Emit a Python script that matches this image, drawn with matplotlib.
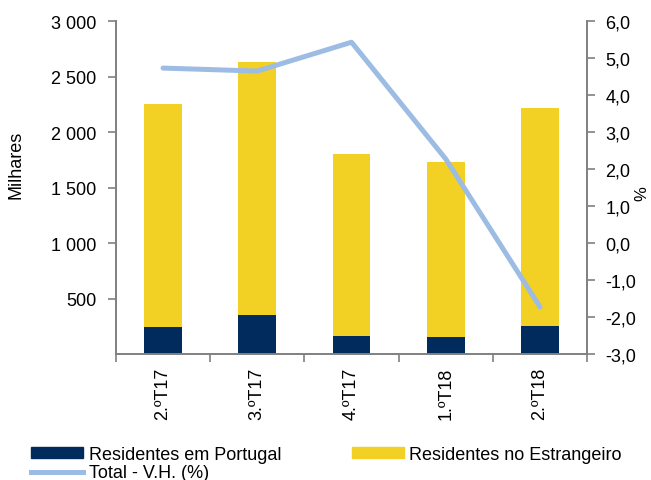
import numpy as np
import matplotlib
matplotlib.use("Agg")
import matplotlib.pyplot as plt
from matplotlib.patches import Patch
from matplotlib.lines import Line2D

plt.rcParams['font.family'] = ['Liberation Sans', 'DejaVu Sans']

# Data (thousands of guests, and year-on-year change in %)
quarters = ["2.ºT17", "3.ºT17", "4.ºT17", "1.ºT18", "2.ºT18"]
residentes_portugal = [245, 350, 162, 153, 252]
residentes_estrangeiro = [2007, 2281, 1640, 1577, 1964]
total_vh = [4.73, 4.65, 5.43, 2.27, -1.73]

navy = "#002B5C"
yellow = "#F2D024"
light_blue = "#9DBCE3"
grey = "#808080"
fs = 13

fig = plt.figure(figsize=(6.51, 4.81), dpi=100)
ax = fig.add_axes([0.178, 0.262, 0.724, 0.692])
x = np.arange(len(quarters))

ax.bar(x, residentes_portugal, width=0.4, color=navy, zorder=2)
ax.bar(x, residentes_estrangeiro, width=0.4, bottom=residentes_portugal,
       color=yellow, zorder=2)

ax.set_xlim(-0.5, len(quarters) - 0.5)
ax.set_ylim(0, 3000)
ax.set_yticks([500, 1000, 1500, 2000, 2500, 3000])
ax.set_yticklabels(["500", "1 000", "1 500", "2 000", "2 500", "3 000"])
ax.set_ylabel("Milhares", fontsize=fs)
ax.yaxis.set_label_coords(-0.193, 0.57)

ax.set_xticks(x)
ax.set_xticklabels(quarters, rotation=90, fontsize=fs)
ax.tick_params(axis="x", length=0, pad=9)
ax.set_xticks(np.arange(-0.5, len(quarters), 1), minor=True)
ax.tick_params(axis="x", which="minor", length=6, color=grey, width=1.2)
ax.tick_params(axis="y", length=6, color=grey, width=1.2, labelsize=fs, pad=8)

for side in ["top", "right"]:
    ax.spines[side].set_visible(False)
for side in ["left", "bottom"]:
    ax.spines[side].set_color(grey)
    ax.spines[side].set_linewidth(1.4)

ax2 = ax.twinx()
ax2.plot(x, total_vh, color=light_blue, linewidth=3.6, zorder=3,
         solid_capstyle="round")
ax2.set_ylim(-3, 6)
yt = np.arange(-3, 7, 1)
ax2.set_yticks(yt)
ax2.set_yticklabels([f"{v:.1f}".replace(".", ",") for v in yt])
ax2.set_ylabel("%", fontsize=12)
ax2.yaxis.set_label_coords(1.1, 0.486)
ax2.tick_params(axis="y", length=6, color=grey, width=1.2, labelsize=fs, pad=7)
for side in ["top", "left", "bottom"]:
    ax2.spines[side].set_visible(False)
ax2.spines["right"].set_color(grey)
ax2.spines["right"].set_linewidth(1.4)

handles = [
    Patch(color=navy, label="Residentes em Portugal"),
    Line2D([], [], color=light_blue, linewidth=3.6, label="Total - V.H. (%)"),
    Patch(color=yellow, label="Residentes no Estrangeiro"),
]
fig.legend(handles=handles, loc="upper left",
           bbox_to_anchor=(31 / 651, 1 - 447 / 481),
           ncol=2, frameon=False, fontsize=fs, handlelength=2.9,
           handleheight=0.55, columnspacing=3.9, labelspacing=0.08,
           handletextpad=0.3, borderpad=0, borderaxespad=0)

fig.savefig("out.png", dpi=100)
